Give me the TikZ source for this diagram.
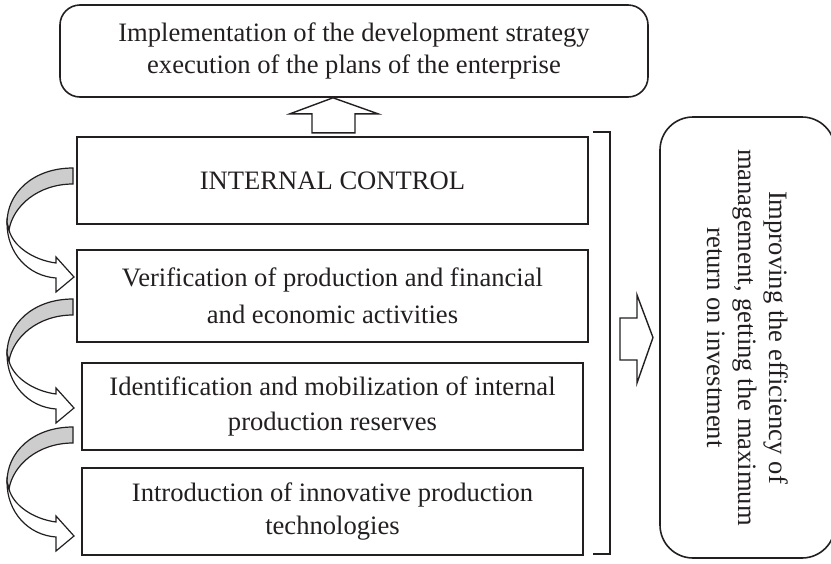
\documentclass[tikz,border=0pt]{standalone}
\usepackage{fontspec}
\setmainfont{Liberation Serif}
\usepackage{xcolor}
\usepackage{tikz}
\usetikzlibrary{calc}

\definecolor{ink}{RGB}{35,31,32}
\definecolor{ribbon}{RGB}{205,205,205}

\begin{document}
\begin{tikzpicture}[x=1pt, y=-1pt,
	every node/.style={font=\fontsize{26.6}{34}\selectfont, text=ink, align=center, inner sep=0pt},
	lines/.style={font=\fontsize{26.6}{#1}\selectfont},
	box/.style={draw=ink, line width=2pt, minimum height=87pt},
	roundbox/.style={draw=ink, line width=1.6pt, rounded corners=20pt},
	blockarrow/.style={draw=ink, line width=1.4pt, fill=white, line join=miter},
	bentarrow/.pic={
		\filldraw[blockarrow, line width=1.2pt, fill=ribbon] (0,0) .. controls (-40,0) and (-66,25) .. (-66,55) -- (-64,62) .. controls (-60,38) and (-35,16) .. (0,16) -- cycle;
		\filldraw[blockarrow, line width=1.2pt] (-66,55) .. controls (-66,85) and (-45,108) .. (-17,110) -- (-17,124) -- (1,109) -- (-17,89) -- (-17,95) .. controls (-40,92) and (-60,78) .. (-64,62) -- cycle;
	}]
	
	\useasboundingbox (0,0) rectangle (831,563);
	
	% Goal on top
	\node[roundbox, lines=32, minimum width=588pt, minimum height=92pt] (plan) at (354,51) {Implementation of the development strategy\\execution of the plans of the enterprise};
	
	% Stages
	\node[box, minimum width=511pt] (ctrl) at (332.5,180.5) {INTERNAL CONTROL};
	\node[box, lines=37, minimum width=511pt, minimum height=92pt] (verif) at (332.5,296) {Verification of production and financial\\and economic activities};
	\node[box, lines=35, minimum width=501pt] (ident) at (332.5,406.5) {Identification and mobilization of internal\\production reserves};
	\node[box, lines=33, minimum width=501pt] (intro) at (332.5,511.5) {Introduction of innovative production\\technologies};
	
	% Result
	\node[roundbox, lines=31, rounded corners=33pt, rotate=-90, minimum width=441pt, minimum height=175pt] (result) at (747.5,337.5) {Improving the efficiency of\\management, getting the maximum\\return on investment};
	
	% Arrow up to the goal
	\draw[blockarrow] ($(plan.south)+(-42,35)$) -- ++(0,-19) -- ++(-22,0) -- (plan.south -| 333,0) -- ++(45,16) -- ++(-23,0) -- ++(0,19) -- cycle;
	
	% Bent arrows between stages
	\pic at ($(ctrl.west)+(-3,-12.5)$) {bentarrow};
	\pic at ($(verif.west)+(-3,3)$) {bentarrow};
	\pic at ($(ident.west)+(-8,20.5)$) {bentarrow};
	
	% Bracket
	\coordinate (btop) at (610,132);
	\coordinate (bbot) at (610,554);
	\draw[ink, line width=1.4pt] ($(btop)+(-17,0)$) -- (btop) -- (bbot) -- ($(bbot)+(-17,0)$);
	
	% Arrow to the result
	\draw[blockarrow] (620,318) -- (637,318) -- (637,295) -- (result.north -| 653,0) -- (637,383) -- (637,360) -- (620,360) -- cycle;
	
\end{tikzpicture}
\end{document}
